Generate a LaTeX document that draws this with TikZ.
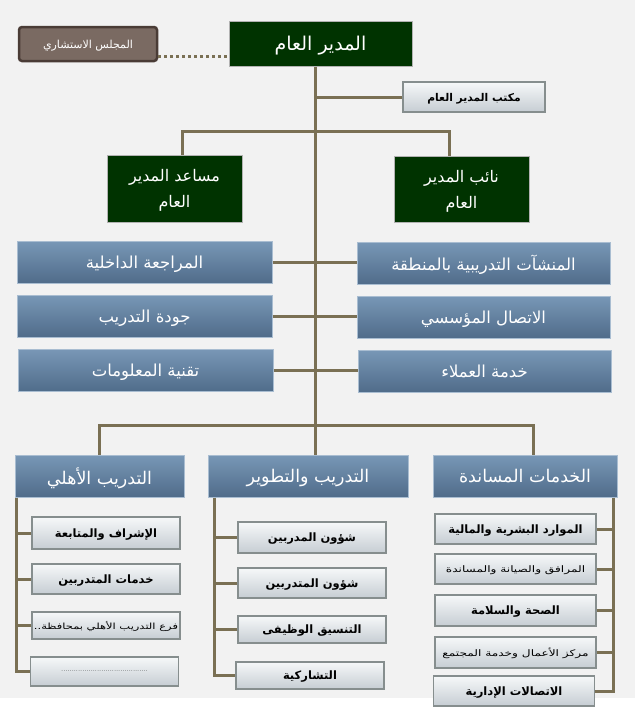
\documentclass[tikz,border=0pt]{standalone}
\usepackage{fontspec}
\usepackage{tikz}
\newfontfamily\arabicfont[Script=Arabic]{DejaVu Sans}
\TeXXeTstate=1
\newcommand{\artxt}[1]{{\arabicfont\beginR #1\endR}}
\newcommand{\widetxt}[1]{\scalebox{1.35}[1]{\artxt{#1}}}

\definecolor{bgc}{HTML}{F2F2F2}
\definecolor{gmgreen}{HTML}{003300}
\definecolor{linkc}{HTML}{7A7054}
\definecolor{bluetop}{HTML}{7897B6}
\definecolor{bluebot}{HTML}{506C8A}
\definecolor{blueline}{HTML}{A9BDD1}
\definecolor{graytop}{HTML}{F6F8F9}
\definecolor{graybot}{HTML}{C6CDD3}
\definecolor{grayline}{HTML}{868E8E}
\definecolor{councilc}{HTML}{7A6A62}
\definecolor{councilline}{HTML}{4A3C36}

\tikzset{
  greenbox/.style={draw=gray!60, line width=1pt, fill=gmgreen, text=white, inner sep=0pt, align=center, text depth=0pt},
  bluebox/.style={draw=blueline, line width=1pt, top color=bluetop, bottom color=bluebot, text=white, inner sep=0pt, text depth=0pt},
  graybox/.style={draw=grayline, line width=1.3pt, top color=graytop, bottom color=graybot, text=black, inner sep=0pt, text depth=0pt},
  councilbox/.style={draw=councilline, line width=2.5pt, fill=councilc, text=white, rounded corners=3pt, inner sep=0pt, text depth=0pt},
  link/.style={draw=linkc, line width=3pt},
  councillink/.style={draw=linkc, line width=3pt, dash pattern=on 3pt off 3pt},
}

\begin{document}
\begin{tikzpicture}[x=1pt,y=-1pt]
        \useasboundingbox (0,0) rectangle (635,707);
        \fill[bgc] (0,0) rectangle (635,698);
        \fill[white] (0,698) rectangle (635,707);

        % top level
        \node[greenbox, minimum width=183pt, minimum height=45pt, font=\fontsize{19}{22}\selectfont] (gm) at (320.5,43.5) {\artxt{المدير العام}};
        \node[councilbox, minimum width=138pt, minimum height=34pt, font=\fontsize{11}{13}\selectfont] (council) at (88,44) {\artxt{المجلس الاستشاري}};
        \node[graybox, minimum width=142pt, minimum height=30pt, font=\bfseries\fontsize{10.7}{12}\selectfont] (office) at (474,97) {\artxt{مكتب المدير العام}};
        \node[greenbox, minimum width=135pt, minimum height=67pt, font=\fontsize{16}{26}\selectfont] (asst) at (174.5,188.5) {\artxt{مساعد المدير}\\\artxt{العام}};
        \node[greenbox, minimum width=135pt, minimum height=66pt, font=\fontsize{16}{26}\selectfont] (dep) at (461.5,189) {\artxt{نائب المدير}\\\artxt{العام}};

        % units under the deputies
        \node[bluebox, minimum width=255pt, minimum height=42pt, font=\fontsize{16.5}{18}\selectfont] (audit) at (144.5,262) {\artxt{المراجعة الداخلية}};
        \node[bluebox, minimum width=255pt, minimum height=42pt, font=\fontsize{16.5}{18}\selectfont] (quality) at (144.5,316) {\artxt{جودة التدريب}};
        \node[bluebox, minimum width=255pt, minimum height=42pt, font=\fontsize{16.5}{18}\selectfont] (infotech) at (145.5,370.5) {\artxt{تقنية المعلومات}};
        \node[bluebox, minimum width=253pt, minimum height=42pt, font=\fontsize{16.5}{18}\selectfont] (facil) at (483.5,263) {\artxt{المنشآت التدريبية بالمنطقة}};
        \node[bluebox, minimum width=253pt, minimum height=42pt, font=\fontsize{16.5}{18}\selectfont] (corp) at (483.5,317) {\artxt{الاتصال المؤسسي}};
        \node[bluebox, minimum width=253pt, minimum height=42pt, font=\fontsize{16.5}{18}\selectfont] (cust) at (484.5,371) {\artxt{خدمة العملاء}};

        % departments
        \node[bluebox, minimum width=169pt, minimum height=42pt, font=\fontsize{17.5}{20}\selectfont] (privhead) at (99.5,476) {\artxt{التدريب الأهلي}};
        \node[bluebox, minimum width=200pt, minimum height=42pt, font=\fontsize{17.5}{20}\selectfont] (trainhead) at (308,476) {\artxt{التدريب والتطوير}};
        \node[bluebox, minimum width=184pt, minimum height=42pt, font=\fontsize{17.5}{20}\selectfont] (supphead) at (525,476) {\artxt{الخدمات المساندة}};

        % private training
        \node[graybox, minimum width=148pt, minimum height=32pt, font=\bfseries\fontsize{11.5}{13}\selectfont] (priv1) at (106,533) {\artxt{الإشراف والمتابعة}};
        \node[graybox, minimum width=148pt, minimum height=30pt, font=\bfseries\fontsize{11.5}{13}\selectfont] (priv2) at (106,579) {\artxt{خدمات المتدربين}};
        \node[graybox, minimum width=148pt, minimum height=27pt, font=\fontsize{8.5}{10}\selectfont] (priv3) at (106,625.5) {\widetxt{فرع التدريب الأهلي بمحافظة..}};
        \node[graybox, minimum width=148pt, minimum height=29pt, font=\fontsize{6}{8}\selectfont] (priv4) at (104.5,671.5) {.........................................};

        % training and development
        \node[graybox, minimum width=148pt, minimum height=31pt, font=\bfseries\fontsize{11.5}{13}\selectfont] (train1) at (312,537.5) {\artxt{شؤون المدربين}};
        \node[graybox, minimum width=148pt, minimum height=30pt, font=\bfseries\fontsize{11.5}{13}\selectfont] (train2) at (312,583) {\artxt{شؤون المتدربين}};
        \node[graybox, minimum width=148pt, minimum height=27pt, font=\bfseries\fontsize{11.5}{13}\selectfont] (train3) at (312,629.5) {\artxt{التنسيق الوظيفى}};
        \node[graybox, minimum width=148pt, minimum height=27pt, font=\bfseries\fontsize{11.5}{13}\selectfont] (train4) at (310,675.5) {\artxt{التشاركية}};

        % support services
        \node[graybox, minimum width=161pt, minimum height=30pt, font=\bfseries\fontsize{11.5}{13}\selectfont] (supp1) at (515.5,529) {\artxt{الموارد البشرية والمالية}};
        \node[graybox, minimum width=161pt, minimum height=30pt, font=\fontsize{9}{10}\selectfont] (supp2) at (515.5,569) {\widetxt{المرافق والصيانة والمساندة}};
        \node[graybox, minimum width=161pt, minimum height=31pt, font=\bfseries\fontsize{11.5}{13}\selectfont] (supp3) at (515.5,610.5) {\artxt{الصحة والسلامة}};
        \node[graybox, minimum width=161pt, minimum height=31pt, font=\fontsize{9}{10}\selectfont] (supp4) at (515.5,652.5) {\widetxt{مركز الأعمال وخدمة المجتمع}};
        \node[graybox, minimum width=161pt, minimum height=30pt, font=\bfseries\fontsize{11.5}{13}\selectfont] (supp5) at (514,691) {\artxt{الاتصالات الإدارية}};

        % connectors
        \coordinate (hub) at (315,425);
        \coordinate (dhub) at (315,131);
        \draw[councillink] ([yshift=-12pt]council.east) -- ([yshift=-12pt]council.east -| gm.west);
        \draw[link] (gm.south -| hub) -- (hub);
        \draw[link] (office.west) -- (office.west -| hub);
        \draw[link] ([xshift=7.5pt]asst.north) |- (dhub) -| ([xshift=-12.5pt]dep.north);
        \draw[link] (audit.east) -- (audit.east -| facil.west);
        \draw[link] (quality.east) -- (quality.east -| corp.west);
        \draw[link] (infotech.east) -- (infotech.east -| cust.west);
        \draw[link] (hub) -- (hub |- trainhead.north);
        \draw[link] (privhead.north) |- (hub) -| ([xshift=8pt]supphead.north);

        \coordinate (privcol) at ([xshift=1.5pt]privhead.south west);
        \coordinate (traincol) at ([xshift=7pt]trainhead.south west);
        \coordinate (suppcol) at ([xshift=-4pt]supphead.south east);
        \draw[link] (privcol) |- (priv4.west);
        \draw[link] (priv1.west) -- (priv1.west -| privcol);
        \draw[link] (priv2.west) -- (priv2.west -| privcol);
        \draw[link] (priv3.west) -- (priv3.west -| privcol);
        \draw[link] (traincol) |- (train4.west);
        \draw[link] (train1.west) -- (train1.west -| traincol);
        \draw[link] (train2.west) -- (train2.west -| traincol);
        \draw[link] (train3.west) -- (train3.west -| traincol);
        \draw[link] (suppcol) |- (supp5.east);
        \draw[link] (supp1.east) -- (supp1.east -| suppcol);
        \draw[link] (supp2.east) -- (supp2.east -| suppcol);
        \draw[link] (supp3.east) -- (supp3.east -| suppcol);
        \draw[link] (supp4.east) -- (supp4.east -| suppcol);
\end{tikzpicture}
\end{document}
